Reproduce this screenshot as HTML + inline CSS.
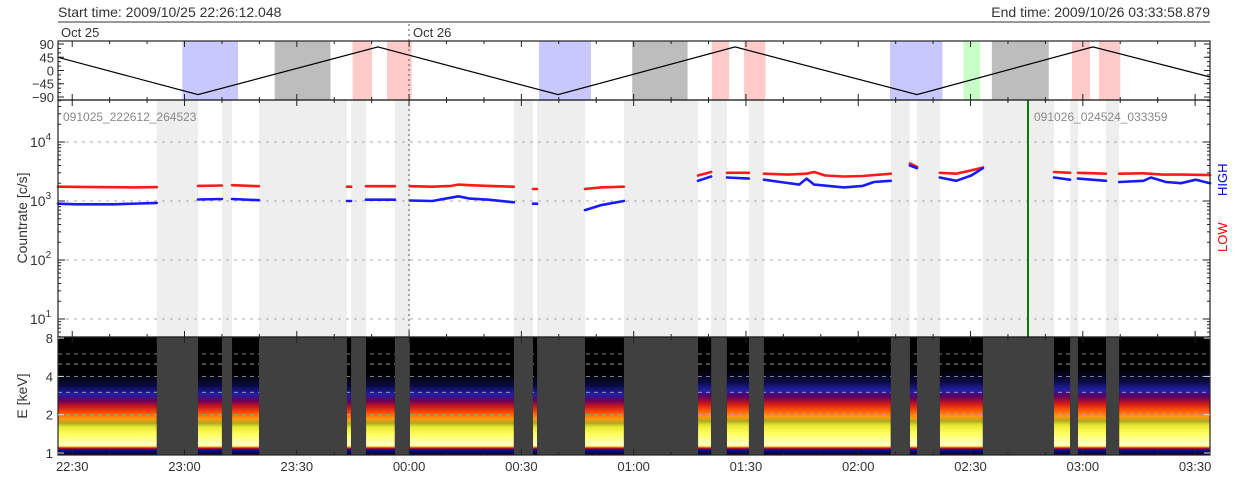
<!DOCTYPE html>
<html><head><meta charset="utf-8">
<style>
html,body{margin:0;padding:0;background:#fff;}
svg text{font-family:"Liberation Sans",sans-serif;fill:#333;}
</style></head>
<body>
<svg id="chart" width="1240" height="480" xmlns="http://www.w3.org/2000/svg">
<defs id="defs"></defs>
<text x="58" y="17" font-size="14">Start time: 2009/10/25 22:26:12.048</text>
<text x="1210" y="17" font-size="14" text-anchor="end">End time: 2009/10/26 03:33:58.879</text>
<line x1="58" x2="1210" y1="22" y2="22" stroke="#777" stroke-width="1.5"/>
<text x="61" y="37" font-size="13">Oct 25</text>
<text x="413" y="37" font-size="13">Oct 26</text>
<g id="g-top"></g>
<g id="g-mid"></g>
<g id="g-bot"></g>
<g id="g-axes"></g>
<text transform="translate(27,218) rotate(-90)" font-size="14" text-anchor="middle">Countrate [c/s]</text>
<text transform="translate(27,396) rotate(-90)" font-size="14" text-anchor="middle">E [keV]</text>
<text transform="translate(1227,252) rotate(-90)" font-size="13" style="fill:#f00">LOW</text>
<text transform="translate(1227,196) rotate(-90)" font-size="13" style="fill:#00f">HIGH</text>
<text x="63" y="121" font-size="12" style="fill:#888">091025_222612_264523</text>
<text x="1034" y="121" font-size="12" style="fill:#888">091026_024524_033359</text>
</svg>
<script>
// ---- data (time in minutes after 22:26:12) ----
const gapStart=[26.4,43.8,53.7,78.3,90.0,121.8,128.0,151.2,174.5,184.6,222.5,229.5,247.1,270.4,280.0];
const gapEnd  =[37.4,46.5,77.2,82.3,94.0,126.9,140.8,171.0,178.7,188.6,227.6,235.6,266.1,272.5,283.5];
const bandStart=[33.2,57.9,78.7,87.9,128.5,153.4,174.7,183.3,222.3,241.9,249.5,270.9,278.1];
const bandEnd  =[48.1,72.8,83.9,94.5,142.4,168.2,179.3,189.0,236.3,246.4,264.7,275.7,283.8];
const bandKind =["blue","gray","pink","pink","blue","gray","pink","pink","blue","green","gray","pink","pink"];
const attT=[0,37.4,85.5,133.6,180.9,229.5,276.5,307.8];
const attV=[45,-82,80,-82,80,-82,80,-22];
const lowT=[0,10,20,26.4,null,37.4,43.8,null,46.5,53.7,null,77.2,78.3,null,82.3,90,null,94,100,105,107,110,115,121.8,null,126.9,128,null,140.8,145,151.2,null,171,174.5,null,178.7,184.6,null,188.6,195,200,202,205,210,215,222.5,null,227.6,229.5,null,235.6,240,244,247.1,null,266.1,270.4,null,272.5,280,null,283.5,290,295,300,307.8];
const lowV=[1750,1720,1700,1720,null,1800,1830,null,1850,1780,null,1750,1750,null,1780,1780,null,1780,1750,1800,1900,1850,1800,1750,null,1600,1600,null,1600,1700,1750,null,2700,3100,null,3000,3000,null,2900,2800,2900,3100,2700,2600,2650,2900,null,4300,3800,null,3000,2900,3300,3700,null,3100,3000,null,3000,2900,null,2900,2950,2800,2800,2750];
const highT=[0,5,15,26.4,null,37.4,43.8,null,46.5,53.7,null,77.2,78.3,null,82.3,90,null,94,100,107,110,115,121.8,null,126.9,128,null,140.8,145,151.2,null,171,174.5,null,178.7,184.6,null,188.6,193,198,200,202,210,215,218,222.5,null,227.6,229.5,null,235.6,240,244,247.1,null,266.1,270.4,null,272.5,280,null,283.5,290,292,296,300,304,307.8];
const highV=[900,880,880,930,null,1060,1080,null,1080,1030,null,1000,1000,null,1050,1050,null,1020,1000,1200,1100,1050,950,null,900,900,null,700,850,1000,null,2200,2600,null,2500,2400,null,2300,2100,1900,2400,1900,1700,1800,2100,2200,null,4000,3600,null,2500,2200,2700,3600,null,2500,2300,null,2400,2200,null,2100,2200,2500,2100,2000,2300,2000];
const specShift=[1.0,1.0,1.0,0.95,1.0,1.0,1.0,1.0,1.12,1.12,1.12,1.08,1.12,1.15,1.12,1.12];
const majorTickLabels=["22:30","23:00","23:30","00:00","00:30","01:00","01:30","02:00","02:30","03:00","03:30"];
// ---- geometry ----
const X0=58,X1=1210,TMAX=307.78;
const xs=t=>X0+(X1-X0)*t/TMAX;
const TOP=[41,100],MID=[100,337],BOT=[337,455];
const yAtt=v=>70.5-v*0.2944;
const yCnt=v=>142+(4-Math.log10(v))*59;
const yE=e=>453-Math.log2(e)*38.3;
const NS="http://www.w3.org/2000/svg";
function mk(tag,attrs,parent){const e=document.createElementNS(NS,tag);for(const k in attrs)e.setAttribute(k,attrs[k]);parent.appendChild(e);return e;}
const gT=document.getElementById('g-top'),gM=document.getElementById('g-mid'),gB=document.getElementById('g-bot'),gA=document.getElementById('g-axes'),defs=document.getElementById('defs');
// top bands
const bandCol={blue:"#c8c8ff",gray:"#bdbdbd",pink:"#ffcaca",green:"#c8ffc8"};
bandStart.forEach((s,i)=>{const r=mk('rect',{x:xs(s),y:TOP[0],width:xs(bandEnd[i])-xs(s),height:TOP[1]-TOP[0],fill:bandCol[bandKind[i]]},gT);

});
let d=attT.map((t,i)=>(i?'L':'M')+xs(t).toFixed(1)+','+yAtt(attV[i]).toFixed(1)).join('');
const al=mk('path',{d:d,fill:'none',stroke:'#000','stroke-width':1.2},gT);


// middle gaps
gapStart.forEach((s,i)=>{const r=mk('rect',{x:xs(s),y:MID[0],width:xs(gapEnd[i])-xs(s),height:MID[1]-MID[0],fill:'#eeeeee'},gM);

});
[1,2,3,4].forEach(p=>{const l=mk('line',{x1:X0,x2:X1,y1:yCnt(10**p),y2:yCnt(10**p),stroke:'#aaa','stroke-dasharray':'3,5'},gM);

});
function series(T,V,col,name){let p='',pen=false;T.forEach((t,i)=>{if(t===null){pen=false;return;}p+=(pen?'L':'M')+xs(t).toFixed(1)+','+yCnt(V[i]).toFixed(1);pen=true;});
const s=mk('path',{d:p,fill:'none',stroke:col,'stroke-width':2.6,'stroke-linejoin':'round','stroke-linecap':'round'},gM);

}
series(lowT,lowV,'#ff1a1a','series-low');
series(highT,highV,'#1a1aff','series-high');
const gl=mk('line',{x1:1028,x2:1028,y1:MID[0],y2:MID[1],stroke:'#008000','stroke-width':2},gM);


const dl=mk('line',{x1:409,x2:409,y1:24,y2:MID[1],stroke:'#555','stroke-dasharray':'2,3'},gM);


// spectrogram
mk('rect',{x:X0,y:BOT[0],width:X1-X0,height:BOT[1]-BOT[0],fill:'#000'},gB);
const segS=[0].concat(gapEnd),segE=gapStart.concat([TMAX]);
const stopsE=[0.9,1.06,1.09,1.11,1.13,1.16,1.4,1.6,1.72,1.85,2.05,2.3,2.6,2.9,3.4,4.2];
const stopsC=["#000020","#101090","#c01020","#ff7000","#fff080","#ffffc8","#ffff60","#e8e830","#b0a820","#ff9a10","#ff5a00","#d01818","#600060","#2020a8","#0a0a40","#000000"];
segS.forEach((s,i)=>{const k=specShift[i];const gid='sg'+i;
const lg=mk('linearGradient',{id:gid,gradientUnits:'userSpaceOnUse',x1:0,x2:0,y1:BOT[1],y2:BOT[0]},defs);
stopsE.forEach((e,j)=>{const ee=e<1.2?e:1.2+(e-1.2)*k;const off=Math.min(1,Math.max(0,(BOT[1]-yE(ee))/(BOT[1]-BOT[0])));mk('stop',{offset:off.toFixed(4),'stop-color':stopsC[j]},lg);});
const r=mk('rect',{x:xs(s),y:BOT[0],width:Math.max(0,xs(segE[i])-xs(s)),height:BOT[1]-BOT[0],fill:'url(#'+gid+')'},gB);

});
[2,3,4,5,6].forEach(e=>{const l=mk('line',{x1:X0,x2:X1,y1:yE(e),y2:yE(e),stroke:'#aaa','stroke-dasharray':'4,4','stroke-width':0.8},gB);

});
gapStart.forEach((s,i)=>{const r=mk('rect',{x:xs(s),y:BOT[0],width:xs(gapEnd[i])-xs(s),height:BOT[1]-BOT[0],fill:'#404040'},gB);

});
// axes frames and ticks
[TOP,MID,BOT].forEach(P=>{mk('rect',{x:X0,y:P[0],width:X1-X0,height:P[1]-P[0],fill:'none',stroke:'#222','stroke-width':1.2},gA);
for(let m=3.8-30;m<=TMAX;m+=10){if(m<0)continue;const maj=Math.abs(((m-3.8)/30)-Math.round((m-3.8)/30))<0.01;const L=maj?6:3;
mk('line',{x1:xs(m),x2:xs(m),y1:P[0],y2:P[0]+L,stroke:'#222'},gA);mk('line',{x1:xs(m),x2:xs(m),y1:P[1],y2:P[1]-L,stroke:'#222'},gA);}});
majorTickLabels.forEach((lab,i)=>{const t=mk('text',{x:xs(3.8+30*i),y:471,'font-size':13,'text-anchor':'middle'},gA);t.textContent=lab;

});
[90,45,0,-45,-90].forEach(v=>{const t=mk('text',{x:54,y:yAtt(v)+5,'font-size':13,'text-anchor':'end'},gA);t.textContent=v<0?'\u2212'+(-v):v;


mk('line',{x1:X0,x2:X0+6,y1:yAtt(v),y2:yAtt(v),stroke:'#222'},gA);mk('line',{x1:X1,x2:X1-6,y1:yAtt(v),y2:yAtt(v),stroke:'#222'},gA);});
for(let v=-90;v<=90;v+=15){mk('line',{x1:X0,x2:X0+3,y1:yAtt(v),y2:yAtt(v),stroke:'#222'},gA);mk('line',{x1:X1,x2:X1-3,y1:yAtt(v),y2:yAtt(v),stroke:'#222'},gA);}
for(let p=0;p<=4;p++)for(let k=1;k<10;k++){const v=k*10**p;const y=yCnt(v);if(y<MID[0]||y>MID[1])continue;const L=k==1?7:3;
mk('line',{x1:X0,x2:X0+L,y1:y,y2:y,stroke:'#222'},gA);mk('line',{x1:X1,x2:X1-L,y1:y,y2:y,stroke:'#222'},gA);}
[1,2,3,4].forEach(p=>{const t=mk('text',{x:30,y:yCnt(10**p)+5,'font-size':14},gA);t.innerHTML='10<tspan font-size="10" dy="-7">'+p+'</tspan>';

});
[1,2,4,8].forEach(e=>{const t=mk('text',{x:53,y:yE(e)+5,'font-size':13,'text-anchor':'end'},gA);t.textContent=e;


mk('line',{x1:X0,x2:X0+6,y1:yE(e),y2:yE(e),stroke:'#ddd'},gA);mk('line',{x1:X1,x2:X1-6,y1:yE(e),y2:yE(e),stroke:'#ddd'},gA);});
</script>
</body></html>
